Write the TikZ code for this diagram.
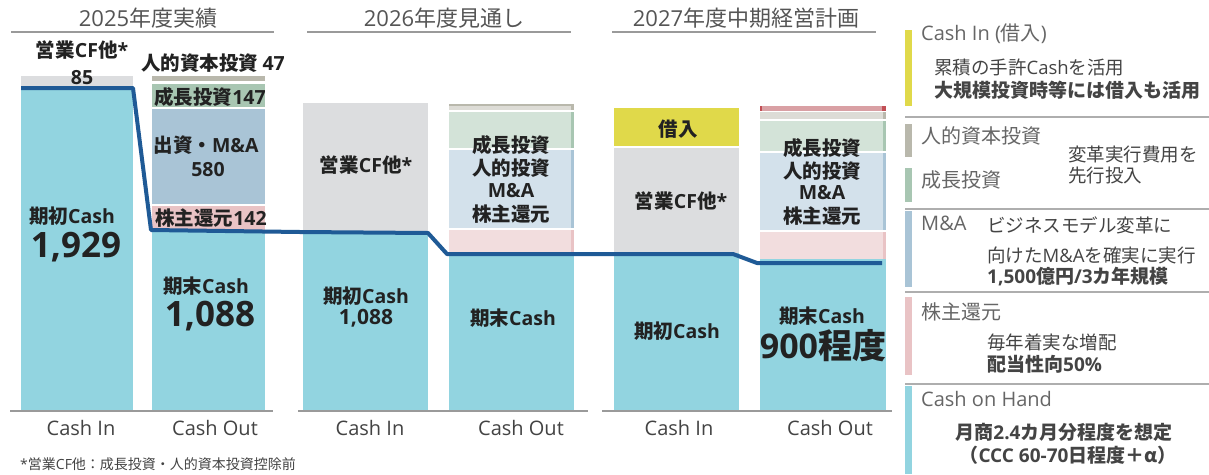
\documentclass[tikz,border=0pt]{standalone}
\usepackage{fontspec}
\setmainfont{Noto Sans CJK JP}
\newfontfamily\osfont{Open Sans}
\newcommand\lt[1]{{\osfont #1}}
\definecolor{cyanc}{HTML}{92D4E0}
\definecolor{grayc}{HTML}{DCDDDF}
\definecolor{taupe}{HTML}{B9B8AC}
\definecolor{taupeL}{HTML}{DDDCD6}
\definecolor{greenc}{HTML}{A8C6B2}
\definecolor{greenL}{HTML}{D3E3D8}
\definecolor{bluec}{HTML}{A9C4D6}
\definecolor{blueL}{HTML}{D3E1EB}
\definecolor{pinkc}{HTML}{E9C3C5}
\definecolor{pinkL}{HTML}{F2DDDE}
\definecolor{redL}{HTML}{D9A0A4}
\definecolor{redc}{HTML}{C24F55}
\definecolor{yellowc}{HTML}{E0D94A}
\definecolor{linec}{HTML}{1F5A96}
\definecolor{axisc}{HTML}{9A9A9A}
\definecolor{headc}{HTML}{555555}
\definecolor{txt}{HTML}{222222}
\definecolor{legh}{HTML}{666666}
\definecolor{legb}{HTML}{444444}
\begin{document}
\begin{tikzpicture}[x=1pt,y=-1pt,
  lbl/.style={font=\fontsize{19.5}{22}\selectfont\bfseries, text=txt, inner sep=0pt},
  big/.style={font=\fontsize{35}{38}\selectfont\bfseries, text=txt, inner sep=0pt},
  head/.style={font=\fontsize{22}{24}\selectfont, text=headc, inner sep=0pt},
  axlbl/.style={font=\fontsize{20}{22}\selectfont\osfont, text=txt!85, inner sep=0pt},
  legH/.style={font=\fontsize{20}{22}\selectfont, text=legh, inner sep=0pt, anchor=west},
  legT/.style={font=\fontsize{18.5}{21}\selectfont, text=legb, inner sep=0pt, anchor=west},
  legB/.style={font=\fontsize{19}{21}\selectfont\bfseries, text=legb, inner sep=0pt, anchor=west},
  axis/.style={draw=axisc, line width=2pt},
  uline/.style={draw=axisc, line width=2pt},
  sep/.style={draw=axisc!80, line width=1.6pt},
  flow/.style={draw=linec, line width=4pt, line join=round}
]
\useasboundingbox (0,0) rectangle (1209,474);
\fill[white] (0,0) rectangle (1209,474);

% ---------- headers ----------
\node[head] (h1) at (148,18) {\lt{2025}年度実績};
\node[head] (h2) at (444,18) {\lt{2026}年度見通し};
\node[head] (h3) at (746,18) {\lt{2027}年度中期経営計画};
\draw[uline] (11,32) -- (274,32);
\draw[uline] (307,32) -- (571,32);
\draw[uline] (612,32) -- (876,32);

% ---------- 2025 ----------
\fill[grayc] (21,76) rectangle (133,87);
\fill[cyanc] (21,87) rectangle (133,411);
\fill[taupe] (152,76) rectangle (265,81);
\fill[greenc] (152,84) rectangle (265,107);
\fill[bluec] (152,109) rectangle (265,204);
\fill[pinkc] (152,206) rectangle (265,230);
\fill[cyanc] (152,231) rectangle (265,411);

% ---------- 2026 ----------
\fill[grayc] (303,103) rectangle (428,233);
\fill[cyanc] (303,233) rectangle (428,411);
\fill[taupeL] (449,104) rectangle (574,110);
\fill[taupe] (571,104) rectangle (574,110);
\fill[taupe] (449,104) rectangle (574,105.5);
\fill[greenL] (449,112) rectangle (574,148);
\fill[greenc] (571,112) rectangle (574,148);
\fill[blueL] (449,150) rectangle (574,228);
\fill[bluec] (571,150) rectangle (574,228);
\fill[pinkL] (449,230) rectangle (574,253);
\fill[pinkc] (571,230) rectangle (574,253);
\fill[cyanc] (449,253) rectangle (574,411);

% ---------- 2027 ----------
\fill[yellowc] (614,108) rectangle (739,146);
\fill[grayc] (614,148) rectangle (739,253);
\fill[cyanc] (614,253) rectangle (739,411);
\fill[redL] (760,106) rectangle (886,111);
\fill[redc] (760,106) rectangle (762,111);
\fill[redc] (882,106) rectangle (886,111);
\fill[taupeL] (760,112) rectangle (886,119);
\fill[taupe] (883,112) rectangle (886,119);
\fill[greenL] (760,121) rectangle (886,151);
\fill[greenc] (883,121) rectangle (886,151);
\fill[blueL] (760,153) rectangle (886,230);
\fill[bluec] (883,153) rectangle (886,230);
\fill[pinkL] (760,232) rectangle (886,259);
\fill[pinkc] (883,232) rectangle (886,259);
\fill[cyanc] (760,259) rectangle (886,411);

% ---------- cash line ----------
\coordinate (l0) at (21,88);
\coordinate (l1) at (133,88);
\coordinate (l2) at (151,230);
\coordinate (l3) at (300,232);
\coordinate (l4) at (428,233);
\coordinate (l5) at (447,254);
\coordinate (l6) at (733,254);
\coordinate (l7) at (757,263);
\coordinate (l8) at (882,263);
\draw[flow] (l0) -- (l1) -- (l2) -- (l3) -- (l4) -- (l5) -- (l6) -- (l7) -- (l8);

% ---------- axes ----------
\draw[axis] (10,411) -- (273,411);
\draw[axis] (298,411) -- (588,411);
\draw[axis] (602,411) -- (892,411);

% ---------- 2025 labels ----------
\node[lbl] (a1) at (82,50) {営業\lt{CF}他\lt{*}};
\node[lbl] (a2) at (82,78) {\lt{85}};
\node[lbl] (a3) at (213,63) {人的資本投資 \lt{47}};
\node[lbl] (a4) at (210,97) {成長投資\lt{147}};
\node[lbl] (a5) at (206,145) {出資・\lt{M\&A}};
\node[lbl] (a6) at (208,170) {\lt{580}};
\node[lbl] (a7) at (211,218) {株主還元\lt{142}};
\node[lbl] (a8) at (72,216) {期初\lt{Cash}};
\node[big] (a9) at (76,247) {\lt{1,929}};
\node[lbl] (a10) at (206,286) {期末\lt{Cash}};
\node[big] (a11) at (210,316) {\lt{1,088}};

% ---------- 2026 labels ----------
\node[lbl] (b1) at (366,165) {営業\lt{CF}他\lt{*}};
\node[lbl] (b2) at (366,296) {期初\lt{Cash}};
\node[font=\fontsize{21}{23}\selectfont\bfseries, text=txt, inner sep=0pt] (b3) at (366,318) {\lt{1,088}};
\node[lbl] (b4) at (511,145) {成長投資};
\node[lbl] (b5) at (511,168) {人的投資};
\node[lbl] (b6) at (511,191) {\lt{M\&A}};
\node[lbl] (b7) at (511,214) {株主還元};
\node[lbl] (b8) at (513,318) {期末\lt{Cash}};

% ---------- 2027 labels ----------
\node[lbl] (c1) at (678,129) {借入};
\node[lbl] (c2) at (681,201) {営業\lt{CF}他\lt{*}};
\node[lbl] (c3) at (677,331) {期初\lt{Cash}};
\node[lbl] (c4) at (822,148) {成長投資};
\node[lbl] (c5) at (822,171) {人的投資};
\node[lbl] (c6) at (822,193) {\lt{M\&A}};
\node[lbl] (c7) at (822,216) {株主還元};
\node[lbl] (c8) at (822,316) {期末\lt{Cash}};
\node[font=\fontsize{34}{37}\selectfont\bfseries, text=txt, inner sep=0pt] (c9) at (823,346) {\lt{900}程度};

% ---------- axis labels ----------
\node[axlbl] (x1) at (81,428) {Cash In};
\node[axlbl] (x2) at (215,428) {Cash Out};
\node[axlbl] (x3) at (370,428) {Cash In};
\node[axlbl] (x4) at (521,428) {Cash Out};
\node[axlbl] (x5) at (679,428) {Cash In};
\node[axlbl] (x6) at (830,428) {Cash Out};

\node[font=\fontsize{14}{16}\selectfont, text=txt!85, inner sep=0pt, anchor=west] (fn) at (20,464) {\lt{*}営業\lt{CF}他：成長投資・人的資本投資控除前};

% ---------- legend ----------
\fill[yellowc] (905,30) rectangle (912,106);
\draw[sep] (905,117) -- (1209,117);
\fill[taupe] (905,124) rectangle (912,157);
\fill[greenc] (905,168) rectangle (912,202);
\draw[sep] (905,209) -- (1209,209);
\fill[bluec] (905,211) rectangle (912,287);
\draw[sep] (905,292) -- (1209,292);
\fill[pinkc] (905,297) rectangle (912,375);
\draw[sep] (905,384) -- (1209,384);
\fill[cyanc] (905,386) rectangle (912,474);

\node[legH] (g1) at (921,34) {\lt{Cash In (}借入\lt{)}};
\node[legT] (g2) at (934,67) {累積の手許\lt{Cash}を活用};
\node[legB] (g3) at (934,90) {大規模投資時等には借入も活用};
\node[legH] (g4) at (921,136) {人的資本投資};
\node[legH] (g5) at (921,180) {成長投資};
\node[legT] (g6) at (1068,155) {変革実行費用を};
\node[legT] (g7) at (1068,176) {先行投入};
\node[legH] (g8) at (921,223) {\lt{M\&A}};
\node[legT] (g9) at (987,225) {ビジネスモデル変革に};
\node[legT] (g10) at (987,255) {向けた\lt{M\&A}を確実に実行};
\node[legB] (g11) at (987,277) {\lt{1,500}億円\lt{/3}カ年規模};
\node[legH] (g12) at (921,312) {株主還元};
\node[legT] (g13) at (987,342) {毎年着実な増配};
\node[legB] (g14) at (987,364) {配当性向\lt{50\%}};
\node[legH] (g15) at (921,399) {\lt{Cash on Hand}};
\node[legB, anchor=center] (g16) at (1064,432) {月商\lt{2.4}カ月分程度を想定};
\node[legB, anchor=center] (g17) at (1068,455) {（\lt{CCC 60-70}日程度＋α）};
\end{tikzpicture}
\end{document}
